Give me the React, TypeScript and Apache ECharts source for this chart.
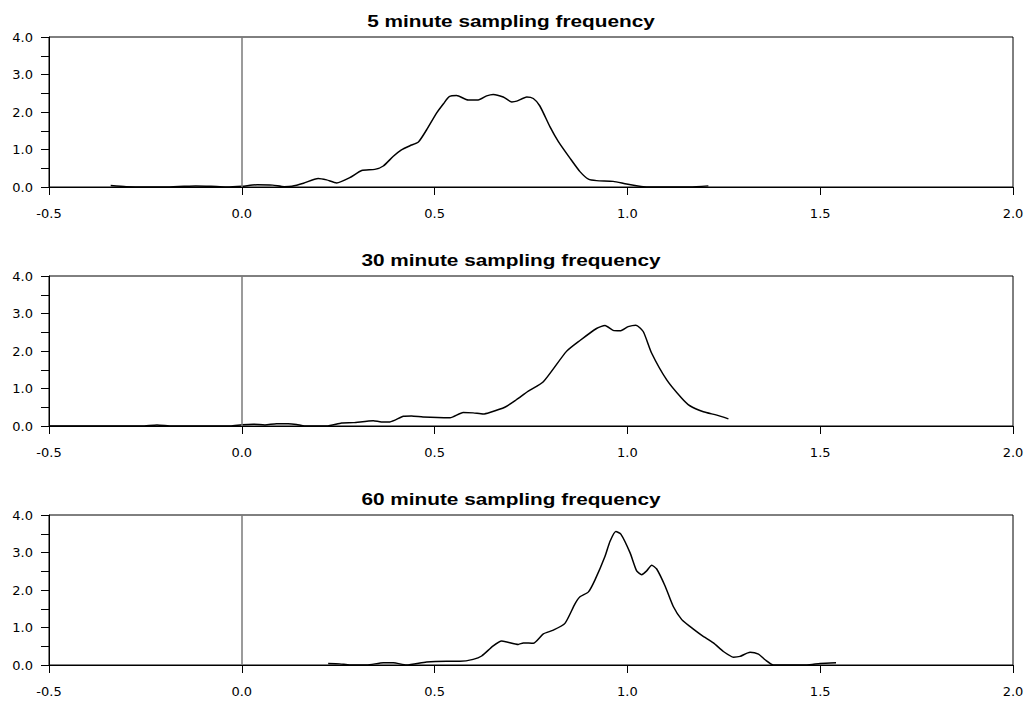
import React, { useEffect, useRef } from "react";
import * as echarts from "echarts";

const titles = ["5 minute sampling frequency", "30 minute sampling frequency", "60 minute sampling frequency"];
const xTicks = [-0.5, 0.0, 0.5, 1.0, 1.5, 2.0];
const yTicks = [0, 1, 2, 3, 4];

const x5 = [-0.34, -0.3, -0.25, -0.2, -0.15, -0.12, -0.08, -0.04, 0.0, 0.04, 0.08, 0.11, 0.13, 0.16, 0.198, 0.22, 0.246, 0.28, 0.311, 0.345, 0.367, 0.393, 0.414, 0.436, 0.458, 0.479, 0.505, 0.523, 0.538, 0.557, 0.587, 0.613, 0.635, 0.652, 0.678, 0.7, 0.713, 0.739, 0.756, 0.773, 0.799, 0.821, 0.851, 0.877, 0.899, 0.92, 0.963, 0.998, 1.041, 1.1, 1.162, 1.21];
const y5 = [0.04, 0.01, 0.0, 0.0, 0.02, 0.03, 0.02, 0.0, 0.02, 0.06, 0.05, 0.01, 0.02, 0.1, 0.23, 0.19, 0.11, 0.25, 0.44, 0.47, 0.56, 0.82, 0.99, 1.1, 1.2, 1.52, 1.97, 2.22, 2.41, 2.44, 2.32, 2.32, 2.43, 2.47, 2.4, 2.27, 2.29, 2.4, 2.36, 2.16, 1.61, 1.21, 0.77, 0.41, 0.21, 0.17, 0.15, 0.08, 0.01, 0.0, 0.0, 0.03];

const x30 = [-0.5, -0.35, -0.26, -0.22, -0.18, -0.1, -0.03, 0.0, 0.03, 0.06, 0.09, 0.12, 0.142, 0.163, 0.22, 0.259, 0.289, 0.341, 0.362, 0.384, 0.419, 0.44, 0.47, 0.54, 0.574, 0.6, 0.626, 0.643, 0.682, 0.712, 0.743, 0.782, 0.842, 0.877, 0.92, 0.942, 0.963, 0.981, 1.002, 1.022, 1.041, 1.063, 1.102, 1.141, 1.162, 1.197, 1.232, 1.262];
const y30 = [0, 0, 0.0, 0.03, 0.0, 0, 0, 0.035, 0.05, 0.03, 0.06, 0.06, 0.04, 0, 0, 0.08, 0.09, 0.14, 0.11, 0.11, 0.26, 0.27, 0.24, 0.22, 0.36, 0.35, 0.32, 0.36, 0.5, 0.7, 0.93, 1.18, 1.99, 2.28, 2.6, 2.68, 2.55, 2.54, 2.65, 2.69, 2.52, 1.94, 1.23, 0.74, 0.54, 0.38, 0.29, 0.19];

const x60 = [0.224, 0.254, 0.28, 0.324, 0.367, 0.393, 0.427, 0.479, 0.531, 0.566, 0.6, 0.622, 0.652, 0.674, 0.717, 0.73, 0.756, 0.782, 0.808, 0.838, 0.864, 0.877, 0.899, 0.916, 0.942, 0.955, 0.97, 0.983, 1.007, 1.024, 1.037, 1.05, 1.063, 1.076, 1.098, 1.119, 1.141, 1.162, 1.193, 1.223, 1.249, 1.275, 1.292, 1.318, 1.34, 1.357, 1.379, 1.465, 1.5, 1.541];
const y60 = [0.04, 0.03, 0.0, 0.0, 0.06, 0.06, 0.0, 0.08, 0.1, 0.1, 0.15, 0.24, 0.51, 0.64, 0.55, 0.59, 0.58, 0.83, 0.93, 1.11, 1.63, 1.82, 1.95, 2.27, 2.9, 3.3, 3.56, 3.49, 2.99, 2.51, 2.41, 2.51, 2.66, 2.56, 2.1, 1.56, 1.21, 1.03, 0.79, 0.59, 0.36, 0.21, 0.23, 0.34, 0.29, 0.14, 0.0, 0.0, 0.04, 0.06];

const seriesX = [x5, x30, x60];
const seriesY = [y5, y30, y60];

const LABEL_FONT = "DejaVu Sans, sans-serif";
const TITLE_FONT = "Liberation Sans, Arial, sans-serif";
const gridTops = [37, 276, 515];
const GRID_H = 150;
const LEFT = 49;
const RIGHT = 17;

export default function App() {
  const ref = useRef<HTMLDivElement>(null);
  useEffect(() => {
    if (!ref.current) return;
    const chart = echarts.init(ref.current, null, { renderer: "svg" });
    const grids = gridTops.map((t) => ({
      left: LEFT,
      right: RIGHT,
      top: t,
      height: GRID_H,
      show: true,
      borderColor: "#000",
      borderWidth: 1,
      backgroundColor: "transparent",
    }));
    const xAxes = gridTops.map((_, i) => ({
      type: "value",
      gridIndex: i,
      min: xTicks[0],
      max: xTicks[xTicks.length - 1],
      interval: 0.5,
      axisLine: { show: true, onZero: false, lineStyle: { color: "#000", width: 1 } },
      axisTick: { show: true, inside: false, length: 8, lineStyle: { color: "#000" } },
      axisLabel: {
        margin: 20,
        color: "#000",
        fontSize: 13,
        fontFamily: LABEL_FONT,
        formatter: (v: number) => v.toFixed(1),
      },
      splitLine: { show: false },
    }));
    const yAxes = gridTops.map((_, i) => ({
      type: "value",
      gridIndex: i,
      min: yTicks[0],
      max: yTicks[yTicks.length - 1],
      interval: 0.5,
      axisLine: { show: true, onZero: false, lineStyle: { color: "#000", width: 1 } },
      axisTick: { show: true, inside: false, length: 8, lineStyle: { color: "#000" } },
      axisLabel: {
        margin: 16,
        color: "#000",
        fontSize: 13,
        fontFamily: LABEL_FONT,
        formatter: (v: number) => (Math.abs(v % 1) < 1e-9 ? v.toFixed(1) : ""),
      },
      splitLine: { show: false },
    }));
    const series = seriesX.map((xs, i) => ({
      type: "line",
      xAxisIndex: i,
      yAxisIndex: i,
      data: xs.map((x, j) => [x, seriesY[i][j]]),
      showSymbol: false,
      symbol: "none",
      smooth: 0.2,
      lineStyle: { color: "#000", width: 1.5 },
      markLine: {
        silent: true,
        symbol: ["none", "none"],
        label: { show: false },
        lineStyle: { color: "#7a7a7a", width: 1.5, type: "solid" },
        data: [{ xAxis: 0 }],
      },
    }));
    const graphic = titles.map((t, i) => ({
      type: "text",
      x: 511,
      y: gridTops[i] - 15.5,
      scaleX: 1.3,
      style: {
        text: t,
        fill: "#000",
        font: `bold 16px ${TITLE_FONT}`,
        textAlign: "center",
        textVerticalAlign: "middle",
      },
    }));
    chart.setOption({
      animation: false,
      backgroundColor: "#fff",
      grid: grids,
      xAxis: xAxes,
      yAxis: yAxes,
      series,
      graphic,
    } as any);
    return () => chart.dispose();
  }, []);
  return (
    <div
      ref={ref}
      style={{ position: "fixed", left: 0, top: 0, width: 1030, height: 707 }}
    />
  );
}
